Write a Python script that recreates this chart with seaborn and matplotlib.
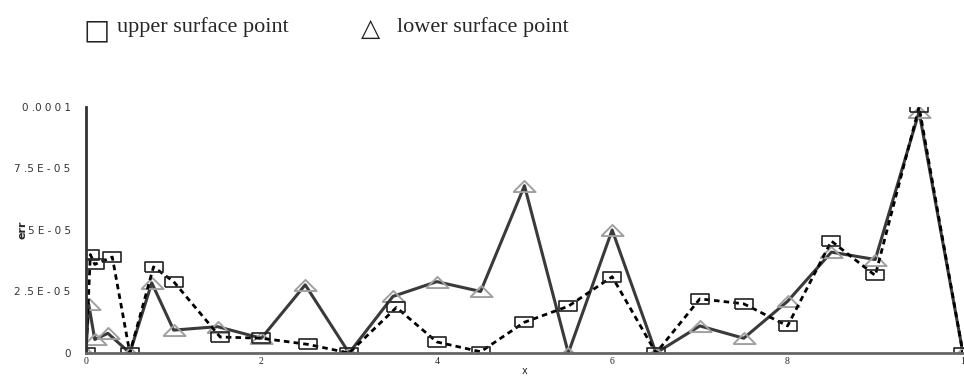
import numpy as np
import pandas as pd
import matplotlib
matplotlib.use("Agg")
from matplotlib import pyplot as plt
from matplotlib.ticker import MultipleLocator, FixedLocator
import seaborn as sns

# lower surface (triangles, solid line)
lower_x = [0.0, 0.003, 0.01, 0.025, 0.05, 0.075, 0.1, 0.15, 0.2, 0.25, 0.3, 0.35, 0.4,
           0.45, 0.5, 0.55, 0.6, 0.65, 0.7, 0.75, 0.8, 0.85, 0.9, 0.95, 1.0]
lower_err = [0.0, 2.0e-5, 0.55e-5, 0.8e-5, 0.0, 2.85e-5, 0.93e-5, 1.07e-5, 0.6e-5, 2.77e-5,
             0.0, 2.3e-5, 2.9e-5, 2.5e-5, 6.8e-5, 0.0, 5.0e-5, 0.0, 1.1e-5, 0.6e-5,
             2.1e-5, 4.1e-5, 3.8e-5, 9.8e-5, 0.0]

# upper surface (rectangles, dotted line)
upper_x = [0.0, 0.005, 0.01, 0.03, 0.05, 0.077, 0.1, 0.153, 0.2, 0.253, 0.3, 0.354, 0.4,
           0.45, 0.5, 0.55, 0.6, 0.65, 0.7, 0.75, 0.8, 0.85, 0.9, 0.95, 1.0]
upper_err = [0.0, 4.0e-5, 3.6e-5, 3.9e-5, 0.0, 3.5e-5, 2.9e-5, 0.65e-5, 0.6e-5, 0.35e-5,
             0.0, 1.85e-5, 0.45e-5, 0.05e-5, 1.25e-5, 1.9e-5, 3.1e-5, 0.0, 2.2e-5, 2.0e-5,
             1.1e-5, 4.55e-5, 3.15e-5, 1.0e-4, 0.0]

xtick_pos = [0, 0.2, 0.4, 0.6, 0.8, 1.0]
xtick_labels = ["0", "2", "4", "6", "8", "1"]
ytick_pos = [0, 2.5e-5, 5e-5, 7.5e-5, 1e-4]
ytick_labels = ["0", "2 .5 E - 0 5", "5 E - 0 5", "7 .5 E - 0 5", "0 .0 0 0 1"]

lower_df = pd.DataFrame({"x": lower_x, "err": lower_err})
upper_df = pd.DataFrame({"x": upper_x, "err": upper_err})

sns.set_style("white")
plt.rcParams["font.family"] = ["DejaVu Sans"]

fig = plt.figure(figsize=(9.64, 3.76), dpi=100)
ax = fig.add_axes([0.0892, 0.0612, 0.9097, 0.6543])

tri = [(-1, -0.5), (1, -0.5), (0, 0.5), (-1, -0.5)]
rect = [(-1, -0.5), (1, -0.5), (1, 0.5), (-1, 0.5), (-1, -0.5)]

sns.lineplot(data=lower_df, x="x", y="err", ax=ax, sort=False, errorbar=None,
             color="#3a3a3a", linewidth=2.2, marker=tri, markersize=16,
             markerfacecolor="none", markeredgecolor="#a0a0a0", markeredgewidth=1.4)
sns.lineplot(data=upper_df, x="x", y="err", ax=ax, sort=False, errorbar=None,
             color="black", linewidth=2.0, linestyle=(0, (2, 1.5)), marker=rect,
             markersize=13, markerfacecolor="none", markeredgecolor="#222222",
             markeredgewidth=1.2)

ax.set_xlim(0, 1)
ax.set_ylim(0, 1e-4)
for s in ["top", "right"]:
    ax.spines[s].set_visible(False)
ax.spines["left"].set_linewidth(2)
ax.spines["left"].set_color("#333333")
ax.spines["bottom"].set_linewidth(2)
ax.spines["bottom"].set_color("#666666")

ax.xaxis.set_major_locator(FixedLocator(xtick_pos))
ax.set_xticklabels(xtick_labels, fontsize=7, family="Liberation Serif")
ax.xaxis.set_minor_locator(MultipleLocator(0.04))
ax.yaxis.set_major_locator(FixedLocator(ytick_pos))
ax.set_yticklabels(ytick_labels, fontsize=7.5, color="#333333")
ax.yaxis.set_minor_locator(MultipleLocator(0.5e-5))
ax.tick_params(axis="y", which="major", direction="in", length=9, width=1.5,
               color="#444444", pad=11)
ax.tick_params(axis="y", which="minor", direction="in", length=5, width=1,
               color="#666666")
ax.tick_params(axis="x", which="major", direction="in", length=5, width=1.5,
               color="#444444", pad=3)
ax.tick_params(axis="x", which="minor", direction="in", length=3.5, width=1,
               color="#888888")
ax.set_xlabel("x", fontsize=7, labelpad=0)
ax.set_ylabel("err", fontsize=8, fontweight="bold")
ax.yaxis.set_label_coords(-0.067, 0.5)

# legend line at top
fig.text(83 / 964, 1 - 38 / 376, "\u25a1", fontsize=20, family="DejaVu Sans",
         va="baseline", color="#222222")
fig.text(117 / 964, 1 - 32 / 376, "upper surface point", fontsize=16,
         family="Liberation Serif", va="baseline")
fig.text(361 / 964, 1 - 36 / 376, "\u25b3", fontsize=18, family="DejaVu Sans",
         va="baseline", color="#222222")
fig.text(397 / 964, 1 - 32 / 376, "lower surface point", fontsize=16,
         family="Liberation Serif", va="baseline")

fig.savefig("out.png", dpi=100)
